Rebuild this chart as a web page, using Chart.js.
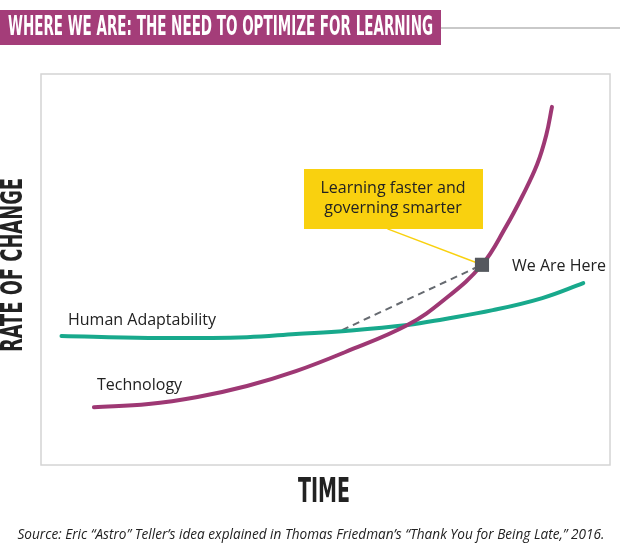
<!DOCTYPE html>
<html>
<head>
<meta charset="utf-8">
<script src="https://cdn.jsdelivr.net/npm/chart.js@4/dist/chart.umd.min.js"></script>
<style>
  html, body { margin: 0; padding: 0; background: #fff; }
  #wrap { position: relative; width: 620px; height: 550px; }
</style>
</head>
<body>
<div id="wrap"><canvas id="c" width="620" height="550"></canvas></div>
<script>
// data (time 0-100, rate of change 0-100)
const techX = [9.3, 18.9, 27.5, 36.2, 44.8, 53.5, 64.4, 70.8, 77.5, 81.7, 84.6, 87.2, 88.8, 89.8];
const techY = [14.8, 15.6, 17.4, 20.2, 24.0, 28.9, 35.8, 42.2, 51.2, 60.9, 68.8, 76.9, 84.4, 91.6];
const humanX = [3.6, 18.9, 36.2, 44.8, 53.5, 64.4, 70.8, 79.4, 88.1, 95.3];
const humanY = [33.0, 32.5, 32.7, 33.5, 34.3, 35.8, 37.3, 39.6, 42.7, 46.5];
const hereX = [77.5];
const hereY = [51.2];
const gapX = [52.9, 77.5];
const gapY = [34.5, 51.2];
const calloutX = [60.9, 77.5];
const calloutY = [60.4, 51.2];

const pts = (xs, ys) => xs.map((x, i) => ({ x: x, y: ys[i] }));

const MAGENTA = '#9e3874';
const TEAL = '#18a98c';
const YELLOW = '#f9d10f';
const NARROW = '"DejaVu Sans Condensed", "Liberation Sans Narrow", sans-serif';

// draw text squeezed horizontally to fill a given width
function fitText(ctx, text, x, y, font, width, align) {
  ctx.save();
  ctx.font = font;
  const w = ctx.measureText(text).width;
  ctx.translate(x, y);
  ctx.scale(width / w, 1);
  ctx.textAlign = align || 'left';
  ctx.textBaseline = 'middle';
  ctx.fillText(text, 0, 0);
  ctx.restore();
}

const decor = {
  id: 'decor',
  beforeDraw(chart) {
    const ctx = chart.ctx;
    const a = chart.chartArea;
    ctx.save();
    ctx.fillStyle = '#fff';
    ctx.fillRect(0, 0, chart.width, chart.height);
    // title bar
    ctx.fillStyle = '#a43d79';
    ctx.fillRect(0, 10, 441, 35);
    ctx.strokeStyle = '#c9c9c9';
    ctx.lineWidth = 2;
    ctx.beginPath(); ctx.moveTo(441, 28); ctx.lineTo(620, 28); ctx.stroke();
    ctx.fillStyle = '#fff';
    fitText(ctx, 'WHERE WE ARE: THE NEED TO OPTIMIZE FOR LEARNING', 8, 28,
      'bold 27px ' + NARROW, 425);
    // plot frame
    ctx.strokeStyle = '#d4d4d4';
    ctx.lineWidth = 1.5;
    ctx.strokeRect(a.left, a.top, a.right - a.left, a.bottom - a.top);
    // axis titles
    ctx.fillStyle = '#222';
    fitText(ctx, 'TIME', 324, 493, 'bold 34px ' + NARROW, 52, 'center');
    ctx.save();
    ctx.translate(14, 265);
    ctx.rotate(-Math.PI / 2);
    fitText(ctx, 'RATE OF CHANGE', 0, 0, 'bold 31px ' + NARROW, 174, 'center');
    ctx.restore();
    fitText(ctx, 'Source: Eric \u201cAstro\u201d Teller\u2019s idea explained in Thomas Friedman\u2019s \u201cThank You for Being Late,\u201d 2016.',
      311, 535, 'italic 14px "Open Sans", sans-serif', 587, 'center');
    ctx.restore();
  },
  afterDatasetsDraw(chart) {
    const ctx = chart.ctx;
    ctx.save();
    // callout box
    ctx.fillStyle = YELLOW;
    ctx.fillRect(304, 169, 179, 60);
    ctx.fillStyle = '#222';
    ctx.font = '16px "Open Sans", "Noto Sans", sans-serif';
    ctx.textAlign = 'center';
    ctx.textBaseline = 'middle';
    ctx.fillText('Learning faster and', 393, 188);
    ctx.fillText('governing smarter', 393, 208);
    ctx.textAlign = 'left';
    ctx.fillText('We Are Here', 512, 266);
    ctx.fillText('Human Adaptability', 68, 320);
    ctx.fillText('Technology', 97, 385);
    ctx.restore();
  }
};

new Chart(document.getElementById('c'), {
  type: 'line',
  data: {
    datasets: [
      { label: 'We Are Here', order: 0, data: pts(hereX, hereY), showLine: false, pointStyle: 'rect',
        pointRadius: 10, pointBackgroundColor: '#55585e', pointBorderColor: '#55585e', pointBorderWidth: 0 },
      { label: 'Technology', order: 1, data: pts(techX, techY), borderColor: MAGENTA, borderWidth: 4,
        pointRadius: 0, tension: 0.4, borderCapStyle: 'round' },
      { label: 'Human Adaptability', order: 2, data: pts(humanX, humanY), borderColor: TEAL, borderWidth: 4,
        pointRadius: 0, tension: 0.4, borderCapStyle: 'round' },
      { label: 'gap', order: 3, data: pts(gapX, gapY), borderColor: '#666a70', borderWidth: 2, borderDash: [7, 5], pointRadius: 0 },
      { label: 'callout', order: 4, data: pts(calloutX, calloutY), borderColor: YELLOW, borderWidth: 1.5, pointRadius: 0 }
    ]
  },
  options: {
    responsive: false,
    animation: false,
    layout: { padding: { left: 41, right: 1, top: 74, bottom: 85 } },
    plugins: { legend: { display: false }, tooltip: { enabled: false } },
    scales: {
      x: { type: 'linear', min: 0, max: 100, display: false },
      y: { type: 'linear', min: 0, max: 100, display: false }
    }
  },
  plugins: [decor]
});
</script>
</body>
</html>
